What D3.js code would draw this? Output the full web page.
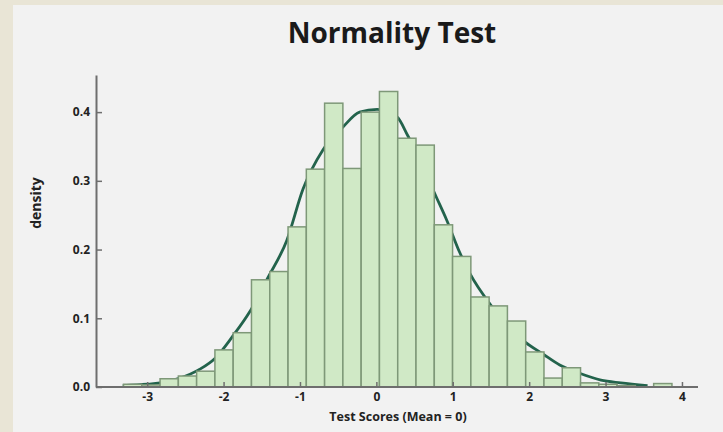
<!DOCTYPE html>
<html>
<head>
<meta charset="utf-8">
<script src="https://cdn.jsdelivr.net/npm/d3@7"></script>
<style>
  html, body { margin: 0; padding: 0; background: #e9e5d6; }
  svg { display: block; }
</style>
</head>
<body>
<div id="chart"></div>
<script>
// histogram: 30 equal bins starting at binLo
const binLo = -3.31;
const binWidth = 0.2393;
const densities = [
  0.004, 0.003, 0.012, 0.016, 0.023, 0.054, 0.079, 0.156, 0.168, 0.233,
  0.317, 0.413, 0.318, 0.400, 0.430, 0.362, 0.352, 0.236, 0.190, 0.131,
  0.118, 0.096, 0.051, 0.013, 0.028, 0.006, 0.004, 0.002, 0.000, 0.005
];

// fitted curve
const curveX = [-3.32, -3.0, -2.83, -2.57, -2.31, -2.11, -1.88, -1.66, -1.42, -1.17,
  -0.96, -0.70, -0.44, -0.22, 0.01, 0.27, 0.41, 0.79, 0.92, 1.09,
  1.22, 1.52, 1.94, 2.18, 2.40, 2.66, 2.94, 3.20, 3.55];
const curveY = [0.002, 0.004, 0.006, 0.013, 0.026, 0.042, 0.074, 0.109, 0.159, 0.214,
  0.288, 0.345, 0.378, 0.400, 0.404, 0.393, 0.366, 0.275, 0.243, 0.196,
  0.166, 0.116, 0.066, 0.048, 0.032, 0.020, 0.010, 0.006, 0.002];

const xTicks = [-3, -2, -1, 0, 1, 2, 3, 4];
const yTicks = [0.0, 0.1, 0.2, 0.3, 0.4];

const title = 'Normality Test';
const xLabel = 'Test Scores (Mean = 0)';
const yLabel = 'density';

const width = 723, height = 432;
const font = "'Open Sans', 'DejaVu Sans', sans-serif";

const svg = d3.select('#chart').append('svg')
  .attr('width', width)
  .attr('height', height)
  .attr('viewBox', `0,0,${width},${height}`);

// panel
svg.append('rect')
  .attr('x', 13).attr('y', 5)
  .attr('width', width - 13).attr('height', height - 5)
  .attr('fill', '#f2f2f2');

const x = d3.scaleLinear().domain([-3.67, 4.21]).range([96, 698]);
const y = d3.scaleLinear().domain([0, 0.454]).range([387, 75]);

const bins = densities.map((d, i) => ({x0: binLo + i * binWidth, x1: binLo + (i + 1) * binWidth, d}));

const line = d3.line()
  .x((d, i) => x(curveX[i]))
  .y(d => y(d))
  .curve(d3.curveMonotoneX);

svg.append('path')
  .datum(curveY)
  .attr('fill', 'none')
  .attr('stroke', '#23634c')
  .attr('stroke-width', 2.8)
  .attr('d', line);

svg.append('g')
  .selectAll('rect')
  .data(bins)
  .join('rect')
  .attr('x', d => x(d.x0))
  .attr('y', d => y(d.d))
  .attr('width', d => x(d.x1) - x(d.x0))
  .attr('height', d => y(0) - y(d.d))
  .attr('fill', '#d0e9c6')
  .attr('stroke', '#7e9878')
  .attr('stroke-width', 1.5);

const xAxis = g => g
  .attr('transform', `translate(0,${y(0)})`)
  .call(d3.axisBottom(x).tickValues(xTicks).tickFormat(d => String(d))
    .tickSizeInner(-5).tickSizeOuter(0).tickPadding(5))
  .call(g => g.select('.domain').attr('d', `M${x.range()[0]},0H${x.range()[1]}`));

const yAxis = g => g
  .attr('transform', `translate(${x(-3.67)},0)`)
  .call(d3.axisLeft(y).tickValues(yTicks).tickFormat(d3.format('.1f'))
    .tickSizeInner(-6).tickSizeOuter(0).tickPadding(6));

svg.append('g').call(xAxis);
svg.append('g').call(yAxis);

svg.selectAll('.domain').attr('stroke', '#6e6e6e').attr('stroke-width', 2);
svg.selectAll('.tick line').attr('stroke', '#6e6e6e').attr('stroke-width', 1.5);
svg.selectAll('.tick text')
  .attr('fill', '#222')
  .style('font-family', font)
  .style('font-size', '12px')
  .style('font-weight', 'bold');

svg.append('text')
  .attr('x', 392).attr('y', 43)
  .attr('text-anchor', 'middle')
  .style('font-family', font)
  .style('font-size', '28px')
  .style('font-weight', 'bold')
  .attr('fill', '#1a1a1a')
  .text(title);

svg.append('text')
  .attr('x', 398).attr('y', 421)
  .attr('text-anchor', 'middle')
  .style('font-family', font)
  .style('font-size', '12.5px')
  .style('font-weight', 'bold')
  .attr('fill', '#222')
  .text(xLabel);

svg.append('text')
  .attr('transform', `translate(41,203) rotate(-90)`)
  .attr('text-anchor', 'middle')
  .style('font-family', font)
  .style('font-size', '14px')
  .style('font-weight', 'bold')
  .attr('fill', '#222')
  .text(yLabel);
</script>
</body>
</html>
